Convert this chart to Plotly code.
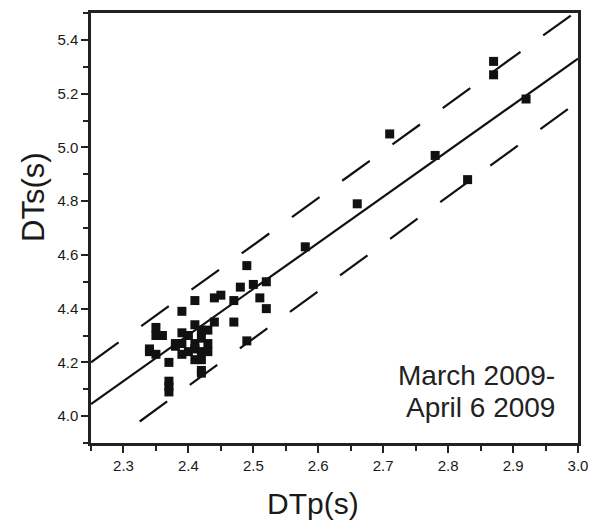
import plotly.graph_objects as go

# Data points (DTp, DTs)
dtp = [2.34, 2.34, 2.35, 2.35, 2.35, 2.36, 2.37, 2.37, 2.37, 2.37,
       2.38, 2.38, 2.39, 2.39, 2.39, 2.39, 2.40, 2.40, 2.41, 2.41,
       2.41, 2.41, 2.41, 2.42, 2.42, 2.42, 2.42, 2.42, 2.42, 2.43,
       2.43, 2.43, 2.44, 2.44, 2.45, 2.47, 2.47, 2.48, 2.49, 2.49,
       2.50, 2.51, 2.52, 2.52, 2.58, 2.66, 2.71, 2.78, 2.83, 2.87,
       2.87, 2.92]
dts = [4.25, 4.24, 4.33, 4.30, 4.23, 4.30, 4.20, 4.13, 4.11, 4.09,
       4.27, 4.26, 4.39, 4.31, 4.27, 4.23, 4.30, 4.24, 4.43, 4.34,
       4.27, 4.21, 4.25, 4.32, 4.29, 4.24, 4.21, 4.17, 4.16, 4.32,
       4.27, 4.24, 4.44, 4.35, 4.45, 4.43, 4.35, 4.48, 4.56, 4.28,
       4.49, 4.44, 4.50, 4.40, 4.63, 4.79, 5.05, 4.97, 4.88, 5.32,
       5.27, 5.18]

# Regression line and bounds
fit_x = [2.25, 3.0]
fit_y = [4.045, 5.33]
upper_x = [2.25, 3.0]
upper_y = [4.20, 5.51]
lower_x = [2.325, 3.0]
lower_y = [3.98, 5.17]

x_ticks = [2.3, 2.4, 2.5, 2.6, 2.7, 2.8, 2.9, 3.0]
x_labels = ["2.3", "2.4", "2.5", "2.6", "2.7", "2.8", "2.9", "3.0"]
y_ticks = [4.0, 4.2, 4.4, 4.6, 4.8, 5.0, 5.2, 5.4]
y_labels = ["4.0", "4.2", "4.4", "4.6", "4.8", "5.0", "5.2", "5.4"]

FONT = "Liberation Sans, Arial, sans-serif"
TXT = "#1a1a1a"

fig = go.Figure()
fig.add_trace(go.Scatter(x=upper_x, y=upper_y, mode="lines",
                         line=dict(color="#111", width=2.2, dash="34px,28px"),
                         showlegend=False, hoverinfo="skip"))
fig.add_trace(go.Scatter(x=lower_x, y=lower_y, mode="lines",
                         line=dict(color="#111", width=2.2, dash="34px,28px"),
                         showlegend=False, hoverinfo="skip"))
fig.add_trace(go.Scatter(x=fit_x, y=fit_y, mode="lines",
                         line=dict(color="#111", width=2.2),
                         showlegend=False, hoverinfo="skip"))
fig.add_trace(go.Scatter(x=dtp, y=dts, mode="markers",
                         marker=dict(symbol="square", size=9, color="#111",
                                     line=dict(width=0)),
                         showlegend=False))

# Period annotation
fig.add_annotation(x=557, y=375, xref="paper", yref="paper", xanchor="right",
                   yanchor="middle", showarrow=False,
                   text="March 2009-", font=dict(family=FONT, size=28, color="#222"))
fig.add_annotation(x=557, y=407, xref="paper", yref="paper", xanchor="right",
                   yanchor="middle", showarrow=False,
                   text="April 6 2009", font=dict(family=FONT, size=28, color="#222"))

axis_common = dict(showline=True, linecolor="#222", linewidth=2.5, mirror=True,
                   ticks="outside", ticklen=7, tickwidth=2, tickcolor="#222",
                   showgrid=False, zeroline=False, automargin=False,
                   tickfont=dict(family=FONT, size=15, color=TXT))

fig.update_xaxes(range=[2.25, 3.0], tickvals=x_ticks, ticktext=x_labels,
                 minor=dict(dtick=0.05, tick0=2.25, ticks="outside", ticklen=5,
                            tickwidth=2, tickcolor="#222", showgrid=False),
                 **axis_common)
fig.update_yaxes(range=[3.9, 5.5], tickvals=y_ticks, ticktext=y_labels,
                 minor=dict(dtick=0.1, tick0=3.9, ticks="outside", ticklen=5,
                            tickwidth=2, tickcolor="#222", showgrid=False),
                 **axis_common)

L, R, T, B = 91, 13, 13, 88
W, H = 591, 531
fig.update_layout(width=W, height=H, margin=dict(l=L, r=R, t=T, b=B),
                  plot_bgcolor="white", paper_bgcolor="white")

# convert pixel-positioned annotations into paper coordinates
pw, ph = W - L - R, H - T - B
for a in fig.layout.annotations:
    a.x = (a.x - L) / pw
    a.y = 1 - (a.y - T) / ph

# axis titles as annotations
fig.add_annotation(x=(313 - L) / pw, y=1 - (503 - T) / ph, xref="paper", yref="paper",
                   showarrow=False, text="DTp(s)", xanchor="center", yanchor="middle",
                   font=dict(family=FONT, size=30, color=TXT))
fig.add_annotation(x=(33 - L) / pw, y=1 - (197 - T) / ph, xref="paper", yref="paper",
                   showarrow=False, text="DTs(s)", textangle=-90,
                   xanchor="center", yanchor="middle",
                   font=dict(family=FONT, size=31, color=TXT))

fig.write_html("out.html")
